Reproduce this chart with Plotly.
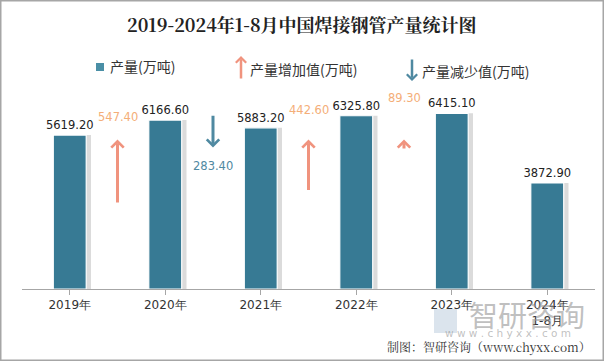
import plotly.graph_objects as go

years = ["2019年", "2020年", "2021年", "2022年", "2023年", "2024年<br>1-8月"]
output = [5619.20, 6166.60, 5883.20, 6325.80, 6415.10, 3872.90]
changes = [547.40, -283.40, 442.60, 89.30]  # between consecutive years

W, H = 604, 361
ML, MR, MT, MB = 22, 9, 90, 72
PW, PH = W - ML - MR, H - MT - MB

BAR = "#377A94"
UP = "#F0937E"
UP_TXT = "#F4AE78"
DOWN = "#4F89A1"

bw = 0.345
xs = list(range(len(years)))

fig = go.Figure()
# shadow bars
fig.add_trace(go.Bar(x=xs, y=output, width=bw, offset=-bw / 2 + 0.05,
                     marker=dict(color="rgba(190,190,190,0.55)", line=dict(width=0)),
                     hoverinfo="skip", showlegend=False))
fig.add_trace(go.Bar(x=xs, y=output, width=bw, offset=-bw / 2,
                     marker=dict(color=BAR, line=dict(color="white", width=1.2)),
                     text=[f"{v:.2f}" for v in output], textposition="outside",
                     constraintext="none",
                     textfont=dict(family="DejaVu Sans", size=11.5, color="#222222"),
                     cliponaxis=False, showlegend=False))

# secondary axis for arrow lengths
Y2MAX = 1690
UP_TIP = 1270
DOWN_TAIL = 1485
for i, c in enumerate(changes):
    xb = i + 0.5
    if c >= 0:
        tip, tail = UP_TIP, UP_TIP - c
        fig.add_annotation(x=xb, y=tip, ax=xb, ay=tail, xref="x", yref="y2",
                           axref="x", ayref="y2", showarrow=True, arrowhead=4,
                           arrowsize=0.8, arrowwidth=3, arrowcolor=UP, text="")
        fig.add_annotation(x=xb, y=output[i], xref="x", yref="y", yshift=9,
                           xanchor="center", yanchor="bottom",
                           text=f"{c:.2f}", showarrow=False,
                           font=dict(family="DejaVu Sans", size=11.5, color=UP_TXT))
    else:
        tail, tip = DOWN_TAIL, DOWN_TAIL + c
        fig.add_annotation(x=xb, y=tip, ax=xb, ay=tail, xref="x", yref="y2",
                           axref="x", ayref="y2", showarrow=True, arrowhead=4,
                           arrowsize=0.8, arrowwidth=3, arrowcolor=DOWN, text="")
        fig.add_annotation(x=xb, y=tip, xref="x", yref="y2", yshift=-18,
                           xanchor="center", yanchor="middle",
                           text=f"{-c:.2f}", showarrow=False,
                           font=dict(family="DejaVu Sans", size=11.5, color=DOWN))

def px(xp):
    return (xp - ML) / PW

def py(yp):
    return 1 - (yp - MT) / PH

CJK = "Noto Sans CJK SC"
SERIF = "Noto Serif CJK SC, Noto Sans CJK SC"

def text(xp, yp, s, size, color, family=CJK, xanchor="center"):
    fig.add_annotation(x=px(xp), y=py(yp), xref="paper", yref="paper",
                       xanchor=xanchor, yanchor="middle", text=s, showarrow=False,
                       font=dict(family=family, size=size, color=color))

# title
text(302, 24, "<b>2019-2024年1-8月中国焊接钢管产量统计图</b>", 18, "#222222", SERIF)
# legend
fig.add_shape(type="rect", xref="paper", yref="paper", x0=px(96), x1=px(104),
              y0=py(71), y1=py(63), fillcolor="#4A8FA6", line=dict(width=0))
text(108, 66, "产量(万吨)", 14, "#333333", xanchor="left")
fig.add_annotation(x=px(241), y=py(56), ax=0, ay=24, xref="paper", yref="paper",
                   showarrow=True, arrowhead=4, arrowsize=0.8, arrowwidth=2.5,
                   arrowcolor=UP, text="")
text(248, 69, "产量增加值(万吨)", 14, "#333333", xanchor="left")
fig.add_annotation(x=px(412), y=py(81), ax=0, ay=-23, xref="paper", yref="paper",
                   showarrow=True, arrowhead=4, arrowsize=0.8, arrowwidth=2.5,
                   arrowcolor=DOWN, text="")
text(420, 71, "产量减少值(万吨)", 14, "#333333", xanchor="left")

# watermark
fig.add_shape(type="rect", xref="paper", yref="paper", x0=px(434), x1=px(457),
              y0=py(333), y1=py(309), fillcolor="rgba(175,195,215,0.45)", line=dict(width=0))
text(527, 314, "智研咨询", 29, "rgba(150,150,150,0.6)")
text(508, 333, "w w w . c h y x x . c o m", 10.5, "rgba(150,150,150,0.6)", "DejaVu Sans")
# source
text(593, 347, "制图：智研咨询（www.chyxx.com）", 12, "#333333", SERIF, xanchor="right")
# outer border
fig.add_shape(type="rect", xref="paper", yref="paper", x0=px(0.75), x1=px(603.25),
              y0=py(360.25), y1=py(0.75), line=dict(color="#A6A6A6", width=1.5))

fig.update_layout(
    width=W, height=H, margin=dict(l=ML, r=MR, t=MT, b=MB),
    paper_bgcolor="white", plot_bgcolor="white", barmode="overlay",
    showlegend=False,
    xaxis=dict(tickmode="array", tickvals=xs, ticktext=years, range=[-0.5, 5.5],
               showline=True, linecolor="#A6A6A6", linewidth=1, ticks="outside",
               ticklen=5, tickcolor="#A6A6A6", showgrid=False, zeroline=False,
               tickfont=dict(family="DejaVu Sans", size=12, color="#333333")),
    yaxis=dict(range=[0, 7265], visible=False, showgrid=False),
    yaxis2=dict(range=[0, Y2MAX], overlaying="y", visible=False, showgrid=False),
)
fig.write_html("out.html", config={"displayModeBar": False},
               post_script="document.body.style.margin='0';")
